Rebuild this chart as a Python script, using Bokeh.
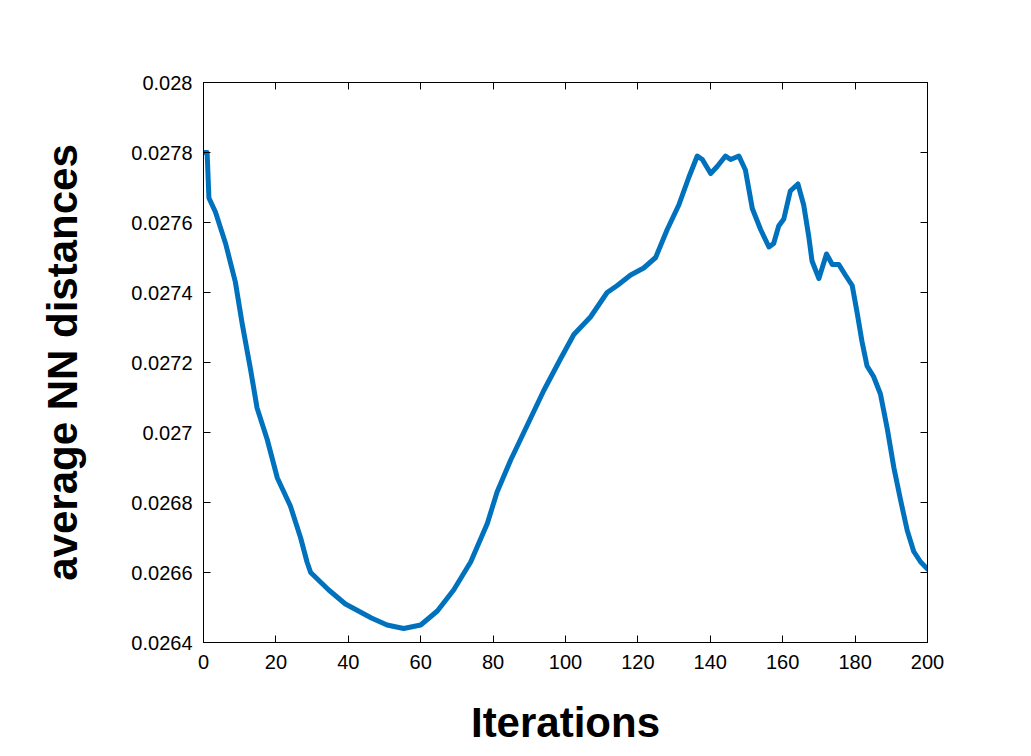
from bokeh.plotting import figure
from bokeh.models import LinearAxis, FixedTicker, CustomJSTickFormatter, Range1d
from bokeh.embed import file_html
from bokeh.resources import INLINE

iterations = [0, 1.0, 1.5, 3.3, 6.1, 8.8, 10.7, 13.0, 14.8, 17.6, 20.4, 24.0, 26.8, 28.6, 29.6,
              34.6, 39.2, 46.4, 50.7, 55.3, 60.0, 64.6, 69.1, 73.8, 78.4, 81.1, 84.8, 89.4,
              94.0, 98.6, 102.3, 106.9, 111.5, 114.3, 118.0, 121.6, 124.9, 128.1, 131.3,
              134.1, 136.4, 137.8, 140.1, 141.9, 144.2, 145.6, 147.9, 149.7, 151.6, 153.9,
              156.2, 157.5, 158.9, 160.3, 162.1, 164.2, 165.8, 167.2, 168.1, 170.0, 172.1,
              173.7, 175.5, 177.3, 179.2, 180.6, 181.9, 183.3, 185.1, 187.0, 188.9, 190.7,
              192.5, 194.4, 196.2, 198.1, 200.0]
nn_dist = [0.02780, 0.02780, 0.02767, 0.02763, 0.02754, 0.02743, 0.02731, 0.02718, 0.02707,
           0.02698, 0.02687, 0.02679, 0.02670, 0.02663, 0.02660, 0.02655, 0.02651, 0.02647,
           0.02645, 0.02644, 0.02645, 0.02649, 0.02655, 0.02663, 0.02674, 0.02683, 0.02692,
           0.02702, 0.02712, 0.02721, 0.02728, 0.02733, 0.02740, 0.02742, 0.02745, 0.02747,
           0.02750, 0.02758, 0.02765, 0.02773, 0.02779, 0.02778, 0.02774, 0.02776, 0.02779,
           0.02778, 0.02779, 0.02775, 0.02764, 0.02758, 0.02753, 0.02754, 0.02759, 0.02761,
           0.02769, 0.02771, 0.02765, 0.02756, 0.02749, 0.02744, 0.02751, 0.02748, 0.02748,
           0.02745, 0.02742, 0.02734, 0.02726, 0.02719, 0.02716, 0.02711, 0.02701, 0.02690,
           0.02681, 0.02672, 0.02666, 0.02663, 0.02661]

x_ticks = [0, 20, 40, 60, 80, 100, 120, 140, 160, 180, 200]
y_ticks = [0.0264, 0.0266, 0.0268, 0.0270, 0.0272, 0.0274, 0.0276, 0.0278, 0.0280]

FONT = "Liberation Sans"

p = figure(width=1015, height=748, output_backend="svg", toolbar_location=None,
           x_range=Range1d(0, 200), y_range=Range1d(0.0264, 0.028),
           min_border_left=203, min_border_right=88, min_border_top=82, min_border_bottom=106)
p.background_fill_color = "white"
p.border_fill_color = "white"
p.outline_line_color = "black"
p.outline_line_width = 1
p.grid.visible = False

p.line(iterations, nn_dist, line_color="#0072BD", line_width=5, line_join="round", line_cap="round")

fmt = CustomJSTickFormatter(code="return parseFloat(tick.toFixed(4)).toString();")
blank = CustomJSTickFormatter(code="return '';")

for ax in p.xaxis:
    ax.ticker = FixedTicker(ticks=x_ticks)
for ax in p.yaxis:
    ax.ticker = FixedTicker(ticks=y_ticks)
    ax.formatter = fmt

for ax in list(p.xaxis) + list(p.yaxis):
    ax.major_tick_in = 7
    ax.major_tick_out = 0
    ax.minor_tick_in = 0
    ax.minor_tick_out = 0
    ax.axis_line_color = "black"
    ax.major_tick_line_color = "black"
    ax.major_label_text_font = FONT
    ax.major_label_text_font_size = "20px"
    ax.major_label_text_color = "black"
    ax.axis_label_text_font = FONT
    ax.axis_label_text_font_style = "bold"
    ax.axis_label_text_font_size = "42px"
    ax.axis_label_text_color = "black"

p.xaxis.major_label_standoff = 12
p.yaxis.major_label_standoff = 11
p.xaxis.axis_label = "Iterations"
p.yaxis.axis_label = "average NN distances"
p.xaxis.axis_label_standoff = 27
p.yaxis.axis_label_standoff = 42

right = LinearAxis(ticker=FixedTicker(ticks=y_ticks), formatter=blank,
                   major_tick_in=7, major_tick_out=0, minor_tick_in=0, minor_tick_out=0,
                   major_label_standoff=0, axis_line_color="black")
top = LinearAxis(ticker=FixedTicker(ticks=x_ticks), formatter=blank,
                 major_tick_in=7, major_tick_out=0, minor_tick_in=0, minor_tick_out=0,
                 major_label_standoff=0, axis_line_color="black")
p.add_layout(right, "right")
p.add_layout(top, "above")

open("out.html", "w").write(file_html(p, INLINE))
